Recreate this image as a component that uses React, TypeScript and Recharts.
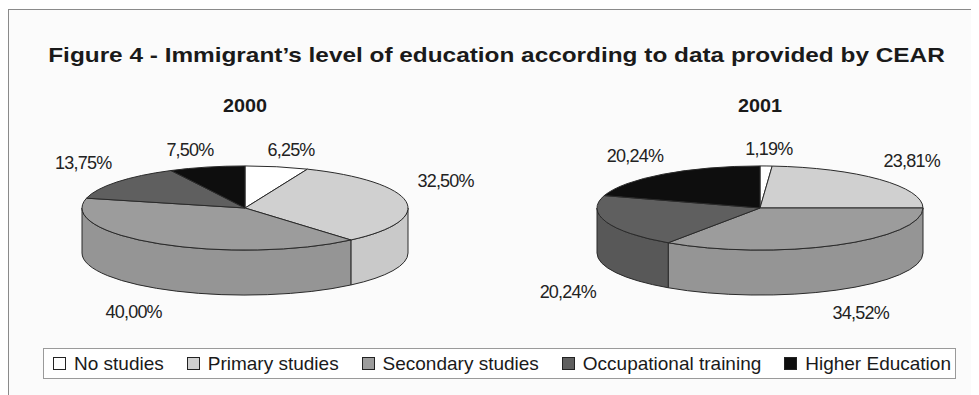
import React from 'react';
import { PieChart, Pie, Cell, Legend } from 'recharts';

const categories = ['No studies', 'Primary studies', 'Secondary studies', 'Occupational training', 'Higher Education'];
const years = ['2000', '2001'];
const values2000 = [6.25, 32.5, 40.0, 13.75, 7.5];
const values2001 = [1.19, 23.81, 34.52, 20.24, 20.24];

const TOP_COLORS = ['#ffffff', '#d0d0d0', '#9c9c9c', '#5f5f5f', '#0e0e0e'];
const SIDE_COLORS = ['#f2f2f2', '#c9c9c9', '#959595', '#585858', '#0a0a0a'];
const FONT = '"Liberation Sans", Arial, Helvetica, sans-serif';

const W = 971;
const H = 387;
const RADIUS = 163;
const TILT = 0.258; // vertical squash of the pie top
const DEPTH = 45; // height of the pie wall

const toData = (vals: number[]) => categories.map((name, i) => ({ name, value: vals[i] }));
const data2000 = toData(values2000);
const data2001 = toData(values2001);

function pt(cx: number, cy: number, r: number, deg: number): [number, number] {
  const a = (deg * Math.PI) / 180;
  return [cx + r * Math.cos(a), cy - r * TILT * Math.sin(a)];
}

// draws one slice as a tilted 3D wedge (top face + visible front wall)
const Slice3D = (props: any) => {
  const { cx, cy, outerRadius: r, startAngle, endAngle, fill } = props;
  const hi = Math.max(startAngle, endAngle);
  const lo = Math.min(startAngle, endAngle);
  const ry = r * TILT;
  const [x1, y1] = pt(cx, cy, r, hi);
  const [x2, y2] = pt(cx, cy, r, lo);
  const large = hi - lo > 180 ? 1 : 0;
  const top = `M${cx},${cy} L${x1},${y1} A${r},${ry} 0 ${large} 1 ${x2},${y2} Z`;

  const a = Math.min(hi, 0);
  const b = Math.max(lo, -180);
  let side: string | null = null;
  if (a > b) {
    const [sx1, sy1] = pt(cx, cy, r, a);
    const [sx2, sy2] = pt(cx, cy, r, b);
    side = `M${sx1},${sy1} A${r},${ry} 0 0 1 ${sx2},${sy2} L${sx2},${sy2 + DEPTH} A${r},${ry} 0 0 0 ${sx1},${sy1 + DEPTH} Z`;
  }
  const idx = TOP_COLORS.indexOf(fill);
  const sideFill = idx >= 0 ? SIDE_COLORS[idx] : fill;
  return (
    <g>
      {side && <path d={side} fill={sideFill} stroke="#2a2a2a" strokeWidth={1} />}
      <path d={top} fill={fill} stroke="#2a2a2a" strokeWidth={1} />
    </g>
  );
};

// label sits outside the 3D body, above for the back half and below for the front half
const renderLabel = (props: any) => {
  const { cx, cy, midAngle, outerRadius, value } = props;
  const a = (midAngle * Math.PI) / 180;
  const s = Math.sin(a);
  const c = Math.cos(a);
  const ry = outerRadius * TILT;
  const x = cx + (outerRadius + 29) * c + 11 * Math.max(-1, Math.min(1, c * 4));
  const y = cy + 25 - Math.sign(s) * (ry + 4 + (ry - 4) * Math.abs(s));
  return (
    <text
      x={x}
      y={y}
      textAnchor="middle"
      dominantBaseline="central"
      fill="#222"
      fontSize={18}
      letterSpacing={-0.8}
      fontFamily={FONT}
    >
      {value.toFixed(2).replace('.', ',') + '%'}
    </text>
  );
};

const LegendBox = () => (
  <div
    style={{
      display: 'flex',
      justifyContent: 'space-between',
      alignItems: 'center',
      width: 913,
      height: 31,
      boxSizing: 'border-box',
      border: '1px solid #9a9a9a',
      background: '#ffffff',
      padding: '0 4px 0 9px',
      fontFamily: FONT,
      fontSize: 19,
      color: '#1a1a1a',
    }}
  >
    {categories.map((c, i) => (
      <span key={c} style={{ display: 'flex', alignItems: 'center' }}>
        <span
          style={{
            display: 'inline-block',
            width: 11,
            height: 11,
            border: '1px solid #222',
            background: TOP_COLORS[i],
            marginRight: 8,
          }}
        />
        {c}
      </span>
    ))}
  </div>
);

export default function App() {
  const pies = [
    { data: data2000, cx: 237 },
    { data: data2001, cx: 752 },
  ];
  return (
    <div style={{ position: 'relative', width: W, height: H }}>
      <div
        style={{
          position: 'absolute',
          left: 0,
          top: 1,
          right: 0,
          bottom: 0,
          borderLeft: '1px solid #8a8a8a',
          borderTop: '1px solid #8a8a8a',
          background: '#fbfbfb',
        }}
      />
      <div
        style={{
          position: 'absolute',
          left: 8,
          width: W - 10,
          top: 35,
          textAlign: 'center',
          fontFamily: FONT,
          fontWeight: 'bold',
          fontSize: 21,
          color: '#1a1a1a',
          transform: 'scaleX(1.16)',
          transformOrigin: '50% 0',
          whiteSpace: 'nowrap',
        }}
      >
        Figure 4 - Immigrant’s level of education according to data provided by CEAR
      </div>
      {years.map((y, i) => (
        <div
          key={y}
          style={{
            position: 'absolute',
            left: pies[i].cx - 60,
            width: 120,
            top: 88,
            textAlign: 'center',
            fontFamily: FONT,
            fontWeight: 'bold',
            fontSize: 18,
            color: '#1a1a1a',
            transform: 'scaleX(1.1)',
          }}
        >
          {y}
        </div>
      ))}
      <div style={{ position: 'absolute', left: 0, top: 0 }}>
        <PieChart width={W} height={H} margin={{ top: 0, right: 0, bottom: 0, left: 0 }}>
          {pies.map((p, i) => (
            <Pie
              key={years[i]}
              data={p.data}
              dataKey="value"
              nameKey="name"
              cx={p.cx}
              cy={200}
              innerRadius={0}
              outerRadius={RADIUS}
              startAngle={90}
              endAngle={-270}
              isAnimationActive={false}
              labelLine={false}
              label={renderLabel}
              shape={Slice3D}
            >
              {p.data.map((d, j) => (
                <Cell key={d.name} fill={TOP_COLORS[j]} />
              ))}
            </Pie>
          ))}
          <Legend content={<LegendBox />} wrapperStyle={{ left: 35, top: 340, width: 913, bottom: 'auto' }} />
        </PieChart>
      </div>
    </div>
  );
}
